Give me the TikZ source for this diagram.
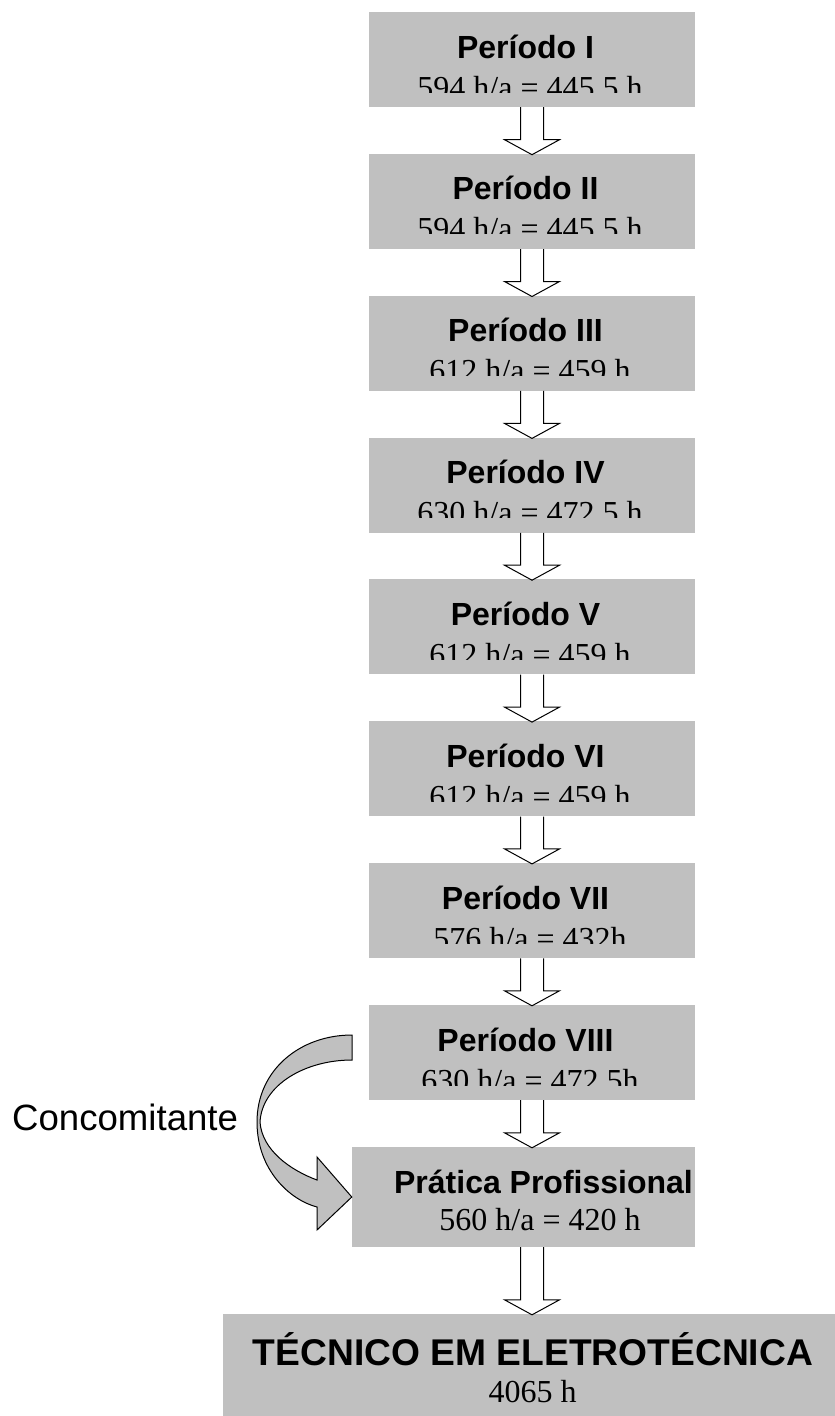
\documentclass[tikz,border=0pt]{standalone}
\usepackage{fontspec}
\setmainfont{Liberation Serif}
\setsansfont{Liberation Sans}
\usetikzlibrary{calc}
\definecolor{boxGray}{RGB}{192,192,192}
\tikzset{
periodBox/.style={fill=boxGray, minimum width=326pt, minimum height=95pt, inner sep=0pt},
titleText/.style={anchor=base, inner sep=0pt, font=\sffamily\bfseries\fontsize{32}{38}\selectfont},
hoursText/.style={anchor=base, inner sep=0pt, font=\fontsize{32}{38}\selectfont},
hollowArrow/.style={line width=1pt, to path={
    ([xshift=-11.5pt]\tikztostart) -- ([xshift=-11.5pt,yshift=14pt]\tikztotarget)
    -- ([xshift=-27.5pt,yshift=14pt]\tikztotarget) -- ([yshift=-1pt]\tikztotarget)
    -- ([xshift=27.5pt,yshift=14pt]\tikztotarget) -- ([xshift=11.5pt,yshift=14pt]\tikztotarget)
    -- ([xshift=11.5pt]\tikztostart)}},
bendArrow/.style={fill=boxGray, draw=black, line width=1pt, line join=miter}
}

\begin{document}
\begin{tikzpicture}[x=1pt,y=-1pt]
    \useasboundingbox (0,0) rectangle (835,1416);
    % boxes
    \node[periodBox] (p1) at (532,59.5) {};
    \node[periodBox] (p2) at (532,201.4) {};
    \node[periodBox] (p3) at (532,343.2) {};
    \node[periodBox] (p4) at (532,485.1) {};
    \node[periodBox] (p5) at (532,626.9) {};
    \node[periodBox] (p6) at (532,768.8) {};
    \node[periodBox] (p7) at (532,910.6) {};
    \node[periodBox] (p8) at (532,1052.5) {};
    \node[periodBox, minimum width=343pt, minimum height=100pt] (pp) at (523.5,1197) {};
    \node[periodBox, minimum width=612pt, minimum height=102pt] (tec) at (529,1365) {};
    % titles
    \node[titleText] (t1) at (525.5,58) {Período I};
    \node[titleText] (t2) at (525.5,199.9) {Período II};
    \node[titleText] (t3) at (525.5,341.7) {Período III};
    \node[titleText] (t4) at (525.5,483.6) {Período IV};
    \node[titleText] (t5) at (525.5,625.4) {Período V};
    \node[titleText] (t6) at (525.5,767.3) {Período VI};
    \node[titleText] (t7) at (525.5,909.1) {Período VII};
    \node[titleText] (t8) at (525.5,1051) {Período VIII};
    \node[titleText] (tpp) at (543.5,1193) {Prática Profissional};
    \node[titleText, font=\sffamily\bfseries\fontsize{37.2}{44}\selectfont] (ttec) at (533,1365) {TÉCNICO EM ELETROTÉCNICA};
    % hours, cut at the bottom as in the original
    \begin{scope}
    \clip (369,12) rectangle (695,92) (369,153.9) rectangle (695,233.9)
          (369,295.7) rectangle (695,375.7) (369,437.6) rectangle (695,517.6)
          (369,579.4) rectangle (695,659.4) (369,721.3) rectangle (695,801.3)
          (369,863.1) rectangle (695,943.1) (369,1005) rectangle (695,1085);
    \node[hoursText] (h1) at (530,98) {594 h/a = 445,5 h};
    \node[hoursText] (h2) at (530,239.9) {594 h/a = 445,5 h};
    \node[hoursText] (h3) at (530,381.7) {612 h/a = 459 h};
    \node[hoursText] (h4) at (530,523.6) {630 h/a = 472,5 h};
    \node[hoursText] (h5) at (530,665.4) {612 h/a = 459 h};
    \node[hoursText] (h6) at (530,807.3) {612 h/a = 459 h};
    \node[hoursText] (h7) at (530,949.1) {576 h/a = 432h};
    \node[hoursText] (h8) at (530,1091) {630 h/a = 472,5h};
    \end{scope}
    \node[hoursText] (hpp) at (540,1230) {560 h/a = 420 h};
    \node[hoursText] (htec) at (532.5,1402) {4065 h};
    % arrows
    \coordinate (ppIn) at (p8.south |- pp.north);
    \coordinate (ppOut) at (p8.south |- pp.south);
    \coordinate (tecIn) at (p8.south |- tec.north);
    \draw[hollowArrow] (p1.south) to (p2.north);
    \draw[hollowArrow] (p2.south) to (p3.north);
    \draw[hollowArrow] (p3.south) to (p4.north);
    \draw[hollowArrow] (p4.south) to (p5.north);
    \draw[hollowArrow] (p5.south) to (p6.north);
    \draw[hollowArrow] (p6.south) to (p7.north);
    \draw[hollowArrow] (p7.south) to (p8.north);
    \draw[hollowArrow] (p8.south) to (ppIn);
    \draw[hollowArrow] (ppOut) to (tecIn);
    % concomitante
    \coordinate (bendTail) at (352,1035);
    \draw[bendArrow] (bendTail) .. controls (300,1035) and (257,1070) .. (257,1122)
        .. controls (257,1170) and (290,1200) .. (317,1207) -- (317,1230) -- (pp.west)
        -- (317,1157) -- (317,1180) .. controls (290,1170) and (262,1150) .. (260,1122)
        .. controls (262,1085) and (305,1060) .. (352,1060) -- cycle;
    \node[anchor=base west, inner sep=0pt, font=\sffamily\fontsize{36.6}{44}\selectfont] (conc) at (12,1130) {Concomitante};
\end{tikzpicture}
\end{document}
